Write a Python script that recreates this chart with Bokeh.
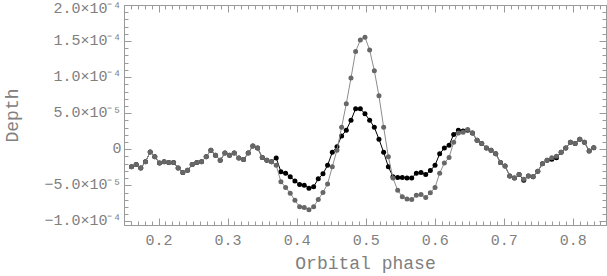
from bokeh.plotting import figure
from bokeh.models import ColumnDataSource, LinearAxis, FixedTicker, Range1d
from bokeh.embed import file_html
from bokeh.resources import INLINE

# Orbital phase of each sample
phase = [0.1601, 0.1669, 0.1736, 0.1804, 0.1872, 0.1939, 0.2007, 0.2074, 0.2142, 0.2210,
         0.2277, 0.2345, 0.2413, 0.2480, 0.2548, 0.2615, 0.2683, 0.2751, 0.2818, 0.2886,
         0.2954, 0.3021, 0.3089, 0.3156, 0.3224, 0.3292, 0.3359, 0.3427, 0.3495, 0.3562,
         0.3630, 0.3697, 0.3765, 0.3833, 0.3900, 0.3968, 0.4036, 0.4103, 0.4171, 0.4239,
         0.4306, 0.4374, 0.4441, 0.4509, 0.4577, 0.4644, 0.4712, 0.4780, 0.4847, 0.4915,
         0.4982, 0.5050, 0.5118, 0.5185, 0.5253, 0.5321, 0.5388, 0.5456, 0.5523, 0.5591,
         0.5659, 0.5726, 0.5794, 0.5862, 0.5929, 0.5997, 0.6064, 0.6132, 0.6200, 0.6267,
         0.6335, 0.6403, 0.6470, 0.6538, 0.6606, 0.6673, 0.6741, 0.6808, 0.6876, 0.6944,
         0.7011, 0.7079, 0.7147, 0.7214, 0.7282, 0.7349, 0.7417, 0.7485, 0.7552, 0.7620,
         0.7688, 0.7755, 0.7823, 0.7890, 0.7958, 0.8026, 0.8093, 0.8161, 0.8229, 0.8296]

# Depth in units of 1e-5 (grey series, larger amplitude)
depth_grey = [-2.35, -2.05, -2.54, -1.65, -0.32, -0.96, -1.85, -1.65, -1.75, -1.75,
              -2.54, -3.14, -2.84, -2.05, -1.75, -1.65, -0.96, -0.06, -0.76, -1.45,
              -0.46, -0.76, -0.46, -1.15, -1.35, -0.46, 0.53, 0.23, -1.06, -1.45,
              -1.65, -2.15, -4.43, -5.22, -6.02, -7.01, -7.90, -8.00, -8.30, -7.90,
              -6.91, -5.92, -4.73, -2.35, -0.06, 3.11, 6.38, 9.96, 13.63, 15.21,
              15.61, 13.83, 10.95, 7.48, 3.11, -0.96, -3.93, -5.62, -6.51, -6.81,
              -6.91, -6.31, -6.21, -6.61, -5.97, -5.22, -3.24, -1.85, -1.06, 1.03,
              2.32, 2.42, 2.81, 2.32, 1.33, 0.88, 0.23, -0.06, -0.56, -1.75,
              -2.25, -3.64, -3.93, -3.44, -4.08, -3.64, -3.73, -2.99, -1.95, -1.45,
              -1.10, -0.91, -0.36, 0.23, 1.03, 0.88, 1.47, 1.03, -0.16, 0.28]

# Depth in units of 1e-5 (black series)
depth_black = [-2.35, -2.05, -2.54, -1.65, -0.32, -0.96, -1.85, -1.65, -1.75, -1.75,
               -2.54, -3.14, -2.84, -2.05, -1.75, -1.65, -0.96, -0.06, -0.76, -1.45,
               -0.46, -0.76, -0.46, -1.15, -1.35, -0.46, 0.53, 0.23, -1.06, -1.45,
               -1.65, -1.15, -3.04, -3.24, -3.73, -4.33, -4.83, -4.92, -5.32, -5.12,
               -4.03, -3.34, -2.15, -0.36, 0.43, 1.92, 2.71, 4.10, 5.69, 5.69,
               4.99, 4.10, 3.11, 1.47, -0.36, -2.35, -3.73, -3.83, -3.83, -3.93,
               -3.93, -3.24, -3.14, -3.44, -2.89, -2.15, -0.56, 0.23, 0.63, 2.12,
               2.71, 2.61, 2.70, 2.32, 1.33, 0.88, 0.23, -0.06, -0.56, -1.75,
               -2.25, -3.64, -3.93, -3.44, -4.23, -3.64, -3.73, -2.99, -1.95, -1.45,
               -1.30, -1.10, -0.36, 0.23, 1.03, 0.88, 1.47, 1.03, -0.16, 0.28]

x_ticks = [0.2, 0.3, 0.4, 0.5, 0.6, 0.7, 0.8]
y_ticks = [-10, -5, 0, 5, 10, 15, 20]
y_tick_labels = ["\u22121.0\u00d710\u207b\u2074", "\u22125.0\u00d710\u207b\u2075", "0",
                 "5.0\u00d710\u207b\u2075", "1.0\u00d710\u207b\u2074",
                 "1.5\u00d710\u207b\u2074", "2.0\u00d710\u207b\u2074"]

AXIS_C = "#9a9a9a"
TEXT_C = "#808080"
FONT = "Liberation Mono"

p = figure(width=607, height=276, output_backend="svg", toolbar_location=None,
           x_range=Range1d(0.15, 0.848), y_range=Range1d(-10.5, 20.0),
           min_border_left=124, min_border_right=1, min_border_top=5, min_border_bottom=0,
           x_axis_label="Orbital phase", y_axis_label="Depth")
p.grid.visible = False
p.outline_line_color = AXIS_C
p.background_fill_color = "white"

x_minor = [round(0.15 + 0.01 * k, 2) for k in range(71)]
y_minor = list(range(-10, 21))
xt = FixedTicker(ticks=x_ticks, minor_ticks=x_minor)
yt = FixedTicker(ticks=y_ticks, minor_ticks=y_minor)


def style(ax, labels=True):
    ax.axis_line_color = AXIS_C
    ax.major_tick_line_color = AXIS_C
    ax.minor_tick_line_color = AXIS_C
    ax.major_tick_in = 7
    ax.major_tick_out = 0
    ax.minor_tick_in = 4
    ax.minor_tick_out = 0
    if labels:
        ax.major_label_text_font = FONT
        ax.major_label_text_font_size = "15px"
        ax.major_label_text_color = TEXT_C
        ax.axis_label_text_font = FONT
        ax.axis_label_text_font_size = "18px"
        ax.axis_label_text_font_style = "normal"
        ax.axis_label_text_color = TEXT_C
    else:
        ax.major_label_standoff = 0


p.xaxis[0].ticker = xt
p.yaxis[0].ticker = yt
p.yaxis[0].major_label_overrides = dict(zip(y_ticks, y_tick_labels))
style(p.xaxis[0])
style(p.yaxis[0])
p.xaxis[0].major_label_standoff = 9
p.xaxis[0].axis_label_standoff = 6
p.yaxis[0].major_label_standoff = 3
p.yaxis[0].axis_label_standoff = 18

top = LinearAxis(ticker=xt)
style(top, labels=False)
top.major_label_overrides = {t: "" for t in x_ticks}
p.add_layout(top, "above")
right = LinearAxis(ticker=yt)
style(right, labels=False)
right.major_label_overrides = {t: "" for t in y_ticks}
p.add_layout(right, "right")

src = ColumnDataSource(dict(phase=phase, grey=depth_grey, black=depth_black))

p.line("phase", "black", source=src, line_color="black", line_width=1)
p.scatter("phase", "black", source=src, size=5, fill_color="black", line_color=None)
p.line("phase", "grey", source=src, line_color="#8c8c8c", line_width=1)
p.scatter("phase", "grey", source=src, size=5, fill_color="#676767", line_color=None)

open("out.html", "w").write(file_html(p, INLINE))
